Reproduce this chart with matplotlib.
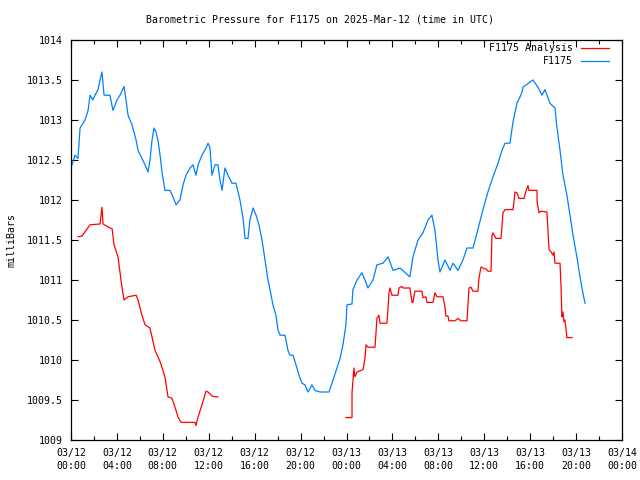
import numpy as np
from matplotlib import pyplot as plt
from matplotlib.ticker import MultipleLocator


# hours since 03/12 00:00 UTC, pressure in milliBars
f1175_hours = [0.09, 0.35, 0.61, 0.79, 1.22, 1.49, 1.66, 1.91, 2.09, 2.35, 2.53, 2.70, 2.88, 3.39, 3.66,
               4.00, 4.27, 4.62, 4.79, 4.97, 5.31, 5.67, 5.84, 6.18, 6.45, 6.71, 6.88, 7.06, 7.23, 7.40,
               7.57, 7.76, 7.93, 8.18, 8.62, 8.88, 9.15, 9.49, 9.76, 10.02, 10.37, 10.63, 10.89, 11.07,
               11.41, 11.76, 11.94, 12.11, 12.28, 12.55, 12.80, 12.98, 13.16, 13.41, 13.67, 14.03, 14.37,
               14.72, 14.98, 15.16, 15.42, 15.59, 15.86, 16.12, 16.37, 16.64, 16.90, 17.16, 17.34, 17.59,
               17.85, 18.03, 18.21, 18.64, 18.90, 19.07, 19.34, 19.60, 19.86, 20.12, 20.38, 20.65, 20.99,
               21.25, 21.69, 22.47, 22.83, 23.17, 23.44, 23.69, 23.95, 24.04, 24.48, 24.56, 24.92, 25.34,
               25.61, 25.87, 26.31, 26.65, 27.18, 27.62, 28.05, 28.66, 29.52, 29.79, 30.23, 30.66, 31.10,
               31.44, 31.71, 31.97, 32.14, 32.58, 33.02, 33.28, 33.71, 34.14, 34.50, 35.02, 35.37, 35.89,
               36.32, 36.76, 37.20, 37.54, 37.81, 38.24, 38.51, 38.85, 39.12, 39.29, 39.37, 40.24, 40.68,
               41.03, 41.29, 41.72, 42.16, 42.33, 42.60, 42.86, 43.20, 43.47, 43.73, 44.08, 44.34, 44.59,
               44.78]
f1175_mb = [1012.44, 1012.56, 1012.52, 1012.90, 1013.00, 1013.12, 1013.31, 1013.25, 1013.31, 1013.38,
            1013.50, 1013.60, 1013.31, 1013.31, 1013.12, 1013.25, 1013.31, 1013.42, 1013.25, 1013.06,
            1012.94, 1012.75, 1012.62, 1012.52, 1012.44, 1012.35, 1012.50, 1012.75, 1012.90, 1012.85,
            1012.75, 1012.56, 1012.35, 1012.12, 1012.12, 1012.04, 1011.94, 1012.00, 1012.19, 1012.31,
            1012.40, 1012.44, 1012.31, 1012.44, 1012.56, 1012.65, 1012.71, 1012.65, 1012.31, 1012.44,
            1012.44, 1012.25, 1012.12, 1012.40, 1012.31, 1012.21, 1012.21, 1012.00, 1011.78, 1011.52,
            1011.52, 1011.75, 1011.90, 1011.81, 1011.69, 1011.50, 1011.25, 1011.00, 1010.88, 1010.69,
            1010.56, 1010.38, 1010.31, 1010.31, 1010.12, 1010.06, 1010.06, 1009.94, 1009.81, 1009.71,
            1009.69, 1009.60, 1009.69, 1009.62, 1009.60, 1009.60, 1009.75, 1009.90, 1010.02, 1010.19,
            1010.44, 1010.69, 1010.70, 1010.88, 1011.00, 1011.09, 1011.00, 1010.90, 1011.00, 1011.19,
            1011.21, 1011.29, 1011.12, 1011.15, 1011.04, 1011.29, 1011.50, 1011.59, 1011.75, 1011.81,
            1011.62, 1011.25, 1011.10, 1011.25, 1011.12, 1011.21, 1011.12, 1011.25, 1011.40, 1011.40,
            1011.59, 1011.88, 1012.10, 1012.29, 1012.46, 1012.62, 1012.71, 1012.71, 1012.98, 1013.21,
            1013.29, 1013.35, 1013.41, 1013.50, 1013.41, 1013.31, 1013.38, 1013.21, 1013.15, 1012.91,
            1012.62, 1012.31, 1012.06, 1011.81, 1011.56, 1011.28, 1011.04, 1010.84, 1010.71]

# analysis has a gap between roughly 12:50 and 23:55
analysis_hours_a = [0.61, 0.96, 1.66, 2.53, 2.70, 2.79, 3.39, 3.58, 3.75, 4.09, 4.44, 4.62, 4.97, 5.67,
                    5.84, 6.18, 6.45, 6.88, 7.32, 7.76, 8.18, 8.45, 8.80, 9.06, 9.32, 9.58, 10.80, 10.89,
                    11.07, 11.41, 11.76, 11.94, 12.28, 12.55, 12.80]
analysis_mb_a = [1011.54, 1011.55, 1011.69, 1011.70, 1011.91, 1011.70, 1011.65, 1011.64, 1011.44,
                 1011.29, 1010.91, 1010.75, 1010.79, 1010.81, 1010.75, 1010.56, 1010.44, 1010.40,
                 1010.12, 1009.98, 1009.79, 1009.54, 1009.52, 1009.41, 1009.29, 1009.22, 1009.22,
                 1009.18, 1009.29, 1009.44, 1009.61, 1009.60, 1009.55, 1009.54, 1009.54]

analysis_hours_b = [23.95, 24.48, 24.48, 24.65, 24.73, 24.92, 25.44, 25.61, 25.70, 25.87, 26.48, 26.57,
                    26.65, 26.82, 26.92, 27.52, 27.62, 27.70, 27.79, 27.96, 28.48, 28.57, 28.83, 28.92,
                    29.52, 29.71, 29.79, 29.96, 30.57, 30.66, 30.92, 31.01, 31.53, 31.71, 31.88, 32.41,
                    32.58, 32.66, 32.84, 32.92, 33.45, 33.71, 33.97, 34.50, 34.58, 34.67, 34.84, 35.02,
                    35.45, 35.54, 35.71, 35.80, 35.98, 36.15, 36.32, 36.59, 36.67, 36.76, 37.02, 37.45,
                    37.54, 37.63, 37.81, 38.51, 38.59, 38.68, 38.85, 39.02, 39.46, 39.63, 39.81, 39.90,
                    40.60, 40.60, 40.77, 40.94, 41.46, 41.55, 41.64, 41.82, 41.99, 42.08, 42.16, 42.60,
                    42.69, 42.77, 42.86, 42.94, 43.03, 43.12, 43.20, 43.64]
analysis_mb_b = [1009.28, 1009.28, 1009.59, 1009.90, 1009.79, 1009.85, 1009.88, 1010.02, 1010.19,
                 1010.16, 1010.16, 1010.34, 1010.52, 1010.56, 1010.46, 1010.46, 1010.65, 1010.84,
                 1010.90, 1010.81, 1010.81, 1010.90, 1010.92, 1010.90, 1010.90, 1010.72, 1010.72,
                 1010.86, 1010.86, 1010.78, 1010.79, 1010.72, 1010.72, 1010.84, 1010.79, 1010.79,
                 1010.66, 1010.55, 1010.55, 1010.49, 1010.49, 1010.52, 1010.49, 1010.49, 1010.69,
                 1010.90, 1010.91, 1010.86, 1010.86, 1011.02, 1011.16, 1011.16, 1011.14, 1011.14,
                 1011.11, 1011.11, 1011.55, 1011.59, 1011.52, 1011.52, 1011.66, 1011.84, 1011.88,
                 1011.88, 1011.98, 1012.10, 1012.09, 1012.02, 1012.02, 1012.11, 1012.18, 1012.12,
                 1012.12, 1011.98, 1011.84, 1011.86, 1011.85, 1011.62, 1011.38, 1011.35, 1011.31,
                 1011.35, 1011.21, 1011.21, 1010.91, 1010.54, 1010.60, 1010.48, 1010.50, 1010.39,
                 1010.28, 1010.28]

tick_hours = np.arange(0, 49, 4)
tick_labels = ['03/12\n00:00', '03/12\n04:00', '03/12\n08:00', '03/12\n12:00', '03/12\n16:00',
               '03/12\n20:00', '03/13\n00:00', '03/13\n04:00', '03/13\n08:00', '03/13\n12:00',
               '03/13\n16:00', '03/13\n20:00', '03/14\n00:00']
y_ticks = np.arange(1009, 1014.01, 0.5)
y_labels = ['1009', '1009.5', '1010', '1010.5', '1011', '1011.5', '1012', '1012.5', '1013',
            '1013.5', '1014']

RED = '#ff0000'
BLUE = '#0080ff'

plt.rcParams['font.family'] = 'DejaVu Sans Mono'
plt.rcParams['font.size'] = 7.1

fig = plt.figure(figsize=(6.4, 4.8), dpi=100)
ax = fig.add_axes([71 / 640, 40 / 480, 551 / 640, 400 / 480])

ax.plot(analysis_hours_a, analysis_mb_a, color=RED, lw=0.9, label='F1175 Analysis')
ax.plot(analysis_hours_b, analysis_mb_b, color=RED, lw=0.9)
ax.plot(f1175_hours, f1175_mb, color=BLUE, lw=0.9, label='F1175')

ax.set_xlim(0, 48)
ax.set_ylim(1009, 1014)
ax.set_xticks(tick_hours)
ax.set_xticklabels(tick_labels, linespacing=1.3)
ax.xaxis.set_minor_locator(MultipleLocator(2))
ax.set_yticks(y_ticks)
ax.set_yticklabels(y_labels)
ax.tick_params(which='both', direction='in', top=True, right=True, width=0.8)
ax.tick_params(which='major', length=5, pad=6)
ax.tick_params(which='minor', length=3)
for s in ax.spines.values():
    s.set_linewidth(0.9)

ax.set_ylabel('milliBars')
ax.yaxis.set_label_coords(-55 / 551, 0.5)
fig.text(0.5, 1 - 20 / 480, 'Barometric Pressure for F1175 on 2025-Mar-12 (time in UTC)',
         ha='center', va='center')

leg = ax.legend(loc='upper right', frameon=False, markerfirst=False, handlelength=2.85,
                bbox_to_anchor=((609 - 71) / 551, (440 - 43) / 400), borderaxespad=0,
                borderpad=0, labelspacing=0.3, handletextpad=0.8)
for t in leg.get_texts():
    t.set_ha('right')

fig.savefig('out.png', dpi=100)
